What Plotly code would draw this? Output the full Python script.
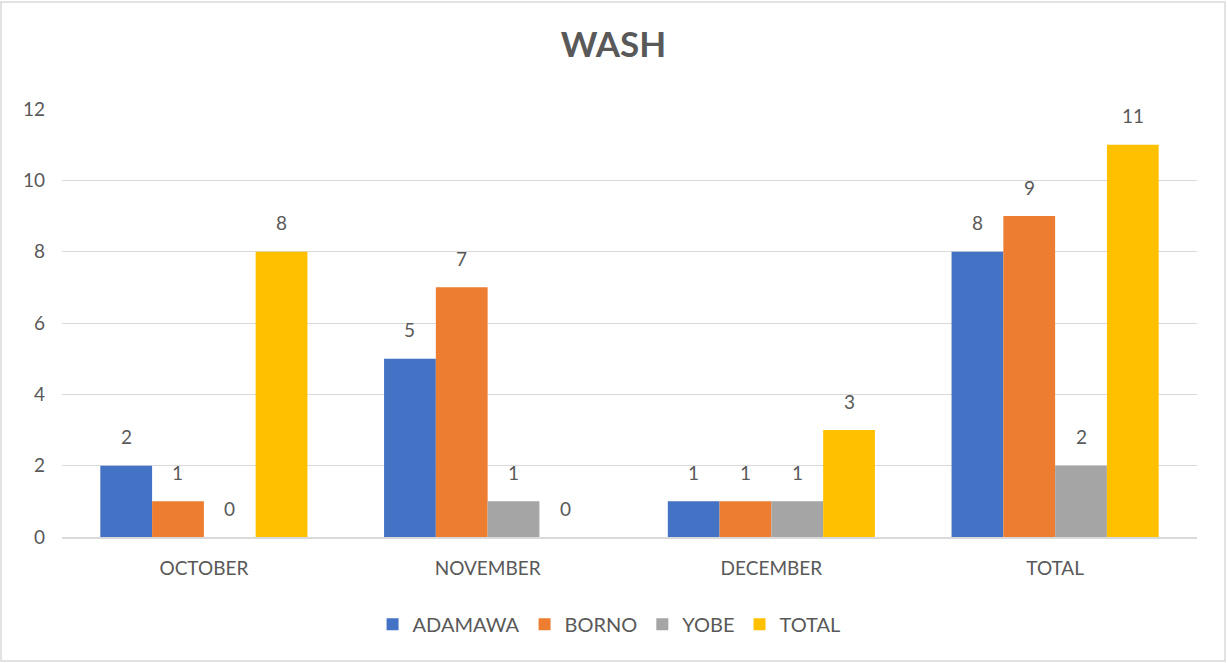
import plotly.graph_objects as go

categories = ["OCTOBER", "NOVEMBER", "DECEMBER", "TOTAL"]
series_names = ["ADAMAWA", "BORNO", "YOBE", "TOTAL"]
adamawa = [2, 5, 1, 8]
borno = [1, 7, 1, 9]
yobe = [0, 1, 1, 2]
total = [8, 0, 3, 11]
y_ticks = [0, 2, 4, 6, 8, 10, 12]

colors = ["#4472C4", "#ED7D31", "#A5A5A5", "#FFC000"]
font_family = "Lato, 'Open Sans', sans-serif"
text_color = "#595959"

W, H = 1227, 663
ML, MR, MT, MB = 62, 30, 109, 126
BARGAP = 0.27
n_series = 4
cat_px = (W - ML - MR) / len(categories)
bar_px = cat_px * (1 - BARGAP) / n_series

fig = go.Figure()
annotations = []
all_series = [adamawa, borno, yobe, total]
for i, (name, vals, col) in enumerate(zip(series_names, all_series, colors)):
    fig.add_trace(go.Bar(
        x=categories, y=vals, name=name,
        marker=dict(color=col, line=dict(width=0)),
        cliponaxis=False,
    ))
    for cat, v in zip(categories, vals):
        annotations.append(dict(
            x=cat, y=v, xref="x", yref="y", text=str(v), showarrow=False,
            xshift=(i - (n_series - 1) / 2) * bar_px, yshift=29,
            xanchor="center", yanchor="middle",
            font=dict(size=19, color=text_color, family=font_family),
        ))

fig.update_layout(
    width=W, height=H,
    barmode="group", bargap=BARGAP, bargroupgap=0,
    paper_bgcolor="white", plot_bgcolor="white",
    margin=dict(l=ML, r=MR, t=MT, b=MB),
    title=dict(text="<b>WASH</b>", x=0.5, xanchor="center", y=0.932, yanchor="middle",
               font=dict(size=35, color=text_color, family=font_family)),
    font=dict(family=font_family, color=text_color, size=16),
    legend=dict(orientation="h", x=0.482, xanchor="center", y=-0.204, yanchor="middle",
                font=dict(size=20, color=text_color, family=font_family),
                itemwidth=30, traceorder="normal"),
    annotations=annotations,
    shapes=[dict(type="rect", xref="paper", yref="paper",
                 x0=-61/1135, x1=1+28/1135, y0=-124/428, y1=1+107/428,
                 line=dict(color="#D9D9D9", width=1.5), fillcolor="rgba(0,0,0,0)", layer="below")],
)
fig.update_yaxes(range=[0, 12], tickvals=y_ticks, showgrid=True, gridcolor="#D9D9D9", gridwidth=1,
                 zeroline=False, showline=False, ticks="", ticklabelstandoff=16,
                 tickfont=dict(size=19, color=text_color, family=font_family))
fig.update_xaxes(showline=True, linecolor="#D9D9D9", linewidth=1.5, ticks="",
                 tickfont=dict(size=19, color=text_color, family=font_family), ticklabelstandoff=13)

fig.write_html("out.html", config={"displayModeBar": False},
               post_script="document.body.style.margin='0px';document.body.style.overflow='hidden';")
